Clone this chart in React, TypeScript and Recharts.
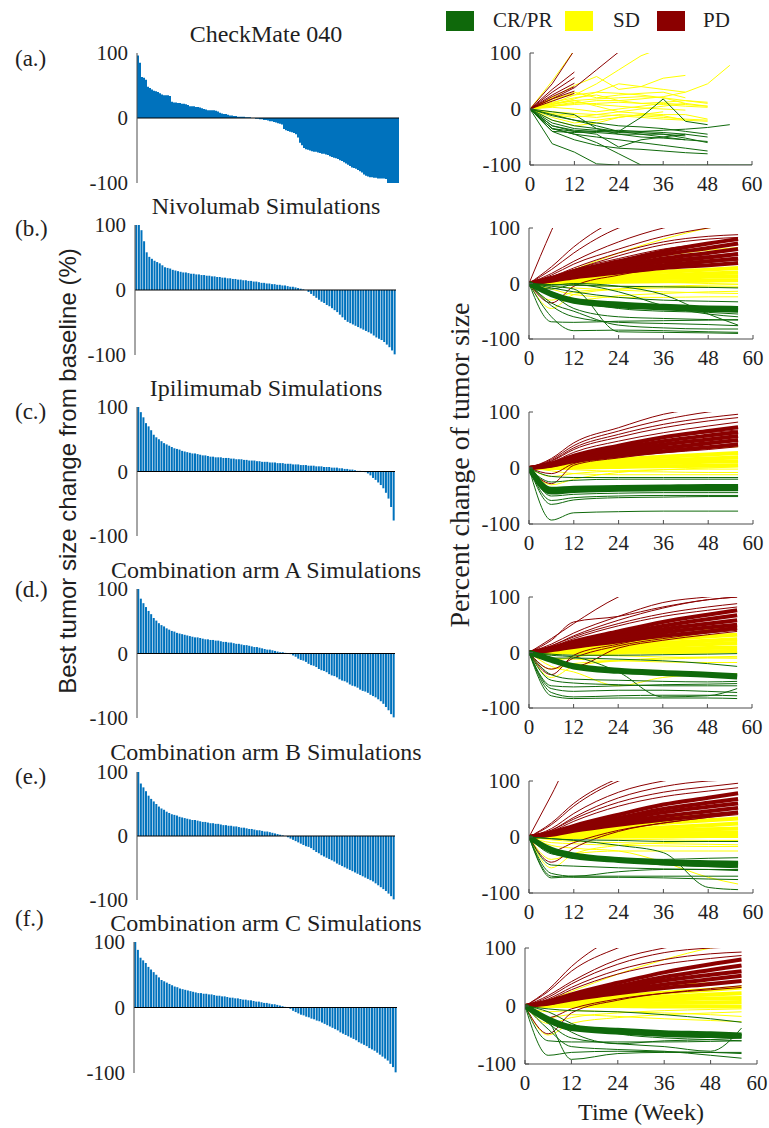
import { BarChart, Bar, LineChart, Line, XAxis, YAxis, ReferenceLine } from 'recharts';

type Box = [number, number, number, number];

const SERIF = '"Liberation Serif", "Times New Roman", serif';
const SANS = '"Liberation Sans", Arial, sans-serif';
const INK = '#1f1f1f';
const FRAME = '#4d4d4d';
const BLUE = '#0072bd';
const GREEN = '#0f690b';
const YELLOW = '#ffff00';
const RED = '#8b0000';

const Y_TICKS = [-100, 0, 100];
const WEEK_TICKS = [0, 12, 24, 36, 48, 60];
const CM_WEEKS = [0, 6, 12, 18, 24, 30, 36, 42, 48, 54, 60];
const SIM_WEEKS = [0, 6, 12, 24, 36, 48, 56];

// best change from baseline, sorted (waterfalls)
const cmBest = [
  96, 85, 63, 62, 59, 48, 46, 44, 42, 41, 40, 38, 36, 35, 35, 35, 34, 25, 24, 24, 23, 23, 22, 22, 21, 20,
  18, 18, 18, 17, 17, 16, 15, 14, 13, 12, 12, 12, 12, 11, 10, 8, 7, 6, 6, 5, 4, 4, 3, 3, 2, 2, 2, 2, 1,
  1, 1, 0, 0, -1, -1, -2, -2, -3, -3, -4, -5, -5, -6, -7, -8, -9, -10, -17, -19, -20, -21, -22, -23, -25,
  -30, -38, -42, -46, -48, -49, -50, -51, -52, -52, -53, -54, -55, -55, -56, -57, -59, -60, -61, -62,
  -63, -65, -66, -68, -70, -72, -74, -76, -77, -78, -80, -82, -84, -87, -89, -90, -91, -91, -92, -92,
  -93, -93, -93, -93, -94, -100, -100, -100, -100, -100, -100,
];
const nivoBest = [
  100, 100, 92, 75, 58, 51, 48, 45, 43, 41, 38, 35, 34, 33, 31, 30, 29, 28, 27, 27,
  26, 25, 25, 24, 24, 23, 23, 22, 22, 21, 21, 20, 20, 19, 19, 18, 18, 17, 17, 16,
  16, 15, 15, 14, 14, 13, 13, 12, 11, 11, 10, 10, 9, 9, 8, 8, 7, 7, 6, 5,
  5, 4, 3, 2, 1, 0, -3, -6, -9, -12, -15, -18, -20, -23, -25, -28, -31, -34, -38, -42,
  -46, -49, -51, -53, -55, -57, -59, -61, -63, -65, -67, -70, -73, -75, -77, -80, -84, -88, -93, -99,
];
const ipiBest = [
  100, 92, 84, 75, 70, 64, 57, 53, 50, 47, 44, 42, 40, 38, 36, 35, 34, 32, 31, 30,
  29, 28, 28, 27, 26, 25, 25, 24, 23, 23, 22, 22, 22, 21, 21, 21, 20, 20, 19, 19,
  19, 18, 18, 17, 17, 17, 16, 16, 15, 15, 15, 14, 14, 14, 13, 13, 13, 12, 12, 12,
  11, 11, 11, 10, 10, 10, 9, 9, 9, 8, 8, 8, 7, 7, 7, 6, 6, 6, 5, 5,
  4, 4, 3, 3, 2, 1, 1, 0, -1, -3, -6, -10, -13, -17, -21, -26, -33, -42, -55, -76,
];
const armABest = [
  100, 85, 78, 72, 66, 61, 55, 51, 47, 44, 42, 39, 37, 35, 34, 32, 31, 30, 29, 28,
  27, 26, 25, 25, 24, 23, 22, 22, 21, 21, 20, 20, 19, 18, 18, 17, 17, 16, 15, 15,
  14, 13, 13, 12, 11, 10, 10, 9, 8, 7, 6, 6, 5, 4, 3, 2, 2, 1, 0, -1,
  -3, -5, -8, -10, -11, -13, -16, -18, -19, -21, -24, -26, -27, -29, -32, -34, -35, -37, -40, -42,
  -43, -45, -48, -50, -51, -53, -56, -58, -59, -61, -64, -66, -68, -71, -74, -78, -83, -88, -94, -99,
];
const armBBest = [
  100, 82, 76, 70, 63, 58, 54, 50, 46, 43, 41, 38, 36, 34, 33, 32, 30, 29, 28, 27,
  26, 25, 25, 24, 23, 22, 22, 21, 20, 20, 19, 19, 18, 17, 17, 16, 16, 15, 15, 14,
  13, 13, 12, 11, 11, 10, 9, 9, 8, 7, 7, 6, 5, 4, 3, 2, 1, 0, -2, -4,
  -6, -8, -10, -12, -14, -16, -17, -19, -22, -25, -27, -30, -32, -34, -36, -38, -40, -43, -45, -47,
  -49, -51, -53, -55, -57, -59, -61, -63, -65, -67, -69, -71, -74, -77, -80, -83, -86, -90, -94, -99,
];
const armCBest = [
  100, 88, 76, 72, 68, 62, 58, 54, 50, 46, 42, 40, 38, 36, 34, 32, 31, 29, 28, 27,
  26, 25, 24, 23, 22, 22, 21, 21, 20, 20, 19, 18, 18, 17, 17, 16, 15, 15, 14, 14,
  13, 12, 12, 11, 11, 10, 9, 9, 8, 7, 7, 6, 5, 5, 4, 3, 2, 1, 0, -2,
  -5, -7, -9, -11, -12, -14, -15, -17, -18, -20, -21, -23, -25, -27, -29, -31, -33, -35, -38, -40,
  -42, -44, -46, -48, -50, -53, -55, -57, -59, -62, -64, -66, -69, -72, -75, -78, -81, -86, -91, -99,
];

// CheckMate 040 spider lines (percent change at CM_WEEKS)
const cmPd = [
  [0, 45, 105],
  [0, 35, 66],
  [0, 30, 56],
  [0, 25, 46],
  [0, 22, 40],
  [0, 18, 32],
  [0, 14, 28],
  [0, 18, 38, 70, 102, 102],
];
const cmSd = [
  [0, 50, 105],
  [0, 20, 42, 58, 35, 40, 55, 60],
  [0, 10, 25, 45, 70, 95, 110],
  [0, 8, 18, 30, 45, 40, 35, 30],
  [0, 5, 10, 15, 15, 18, 22, 30, 45, 78],
  [0, 15, 30, 20, 25, 28, 30, 20],
  [0, 10, 15, 18, 20, 22, 20, 15, 10],
  [0, 5, 8, 10, 12, 10, 8, 5, 3],
  [0, 3, 0, -5, 0, 5, 10, 8, 5],
  [0, -5, -8, -10, -12, -15, -18, -20, -22],
  [0, -15, -25, -20, -15, -10, -12, -20],
  [0, 8, 15, 5, -5, -8, -10, -10, -18],
  [0, 20, 25, 30, 28, 25, 20, 10, 5],
  [0, -10, -15, -10, -5, 0, 5, 10],
  [0, -20, -30, -25, -15, -10, -5],
  [0, 12, 20, 25, 15, 10, 12, 15, 12],
  [0, 6, 12, 8, 5, 2, 0, -2],
  [0, -8, -12, -15, -10, -12, -15, -18, -20],
];
const cmCr = [
  [0, -62, -77, -98, -100, -100, -100, -100, -100, -100, -100],
  [0, -35, -45, -60, -80, -100, -100],
  [0, -30, -38, -40, -42, -40, -38, -36, -33, -28],
  [0, -10, -20, -30, -40, -15, 18, -22, -28],
  [0, -35, -40, -45, -68, -55, -50, -45],
  [0, -40, -55, -65, -70, -72, -75, -78, -80],
  [0, -35, -45, -50, -55, -60, -65, -70, -75],
  [0, -20, -30, -35, -40, -45, -50, -55, -58],
  [0, -25, -35, -38, -40, -42, -45, -52, -60],
  [0, -30, -40, -42, -45, -45, -45, -48],
  [0, -5, -10, -35, -45, -50, -52, -55],
  [0, -40, -42, -40, -38, -40, -42, -45, -50],
  [0, -12, -20, -25, -30, -32, -35, -40, -45],
];

// Nivolumab simulations (percent change at SIM_WEEKS)
const nivoSdBand = [
  [0, 3, 8, 15, 21, 25, 28],
  [0, 2, 6, 11, 15, 18, 20],
  [0, 1, 4, 7, 10, 12, 13],
  [0, 1, 2, 3, 4, 5, 6],
];
const nivoSd = [
  [0, 10, 25, 55, 80, 100, 110],
  [0, 8, 18, 35, 50, 60, 65],
  [0, 5, 12, 25, 35, 42, 45],
  [0, -20, -30, -22, -18, -15, -14],
  [0, -30, -15, -10, -8, -7, -7],
  [0, -10, -20, -25, -25, -24, -24],
  [0, -5, -8, -12, -15, -17, -18],
  [0, -45, -20, -10, -5, -3, -2],
  [0, 0, -3, -5, -5, -6, -6],
  [0, 3, 5, 4, 2, 0, -1],
];
const nivoPdBand = [
  [0, 10, 22, 40, 58, 72, 80],
  [0, 9, 20, 36, 52, 64, 72],
  [0, 8, 18, 32, 45, 55, 62],
  [0, 7, 15, 28, 39, 47, 53],
  [0, 6, 13, 24, 33, 40, 45],
  [0, 5, 11, 20, 28, 33, 37],
];
const nivoPd = [
  [0, 95, 180, 250, 250, 250, 250],
  [0, 30, 66, 115, 130, 140, 145],
  [0, 25, 55, 100, 120, 130, 135],
  [0, 18, 40, 75, 100, 115, 120],
  [0, 15, 35, 62, 85, 100, 108],
  [0, 12, 28, 55, 75, 85, 88],
  [0, 12, 25, 50, 70, 80, 83],
  [0, 10, 25, 45, 62, 72, 78],
  [0, 10, 22, 40, 55, 65, 70],
  [0, -35, -5, 15, 28, 38, 42],
  [0, 8, 18, 32, 42, 50, 55],
];
const nivoCr = [
  [0, -69, -70, -68, -67, -66, -65],
  [0, -60, -85, -84, -85, -87, -88],
  [0, -5, -10, -87, -88, -89, -90],
  [0, -3, 0, -5, -20, -55, -75],
  [0, -10, -2, -15, -40, -55, -60],
  [0, -20, -45, -60, -63, -65, -66],
  [0, -15, -30, -45, -50, -52, -55],
  [0, -8, -15, -25, -30, -32, -33],
  [0, -2, -3, -5, -6, -7, -8],
  [0, -40, -60, -70, -72, -74, -76],
  [0, -35, -50, -75, -80, -82, -82],
];
const nivoCrBand = [
  [0, -18, -30, -37, -41, -44, -45],
  [0, -20, -32, -40, -44, -47, -48],
];

// Ipilimumab simulations
const ipiSdBand = [
  [0, 3, 8, 15, 20, 24, 27],
  [0, 2, 5, 10, 14, 17, 19],
  [0, 1, 3, 6, 9, 11, 12],
  [0, 0, 1, 2, 3, 4, 5],
];
const ipiSd = [
  [0, -30, -20, -8, -3, 0, 2],
  [0, -15, -10, -5, -3, -2, -2],
  [0, -5, -10, -12, -12, -12, -12],
  [0, 3, 10, 22, 30, 35, 38],
  [0, 0, -3, -6, -7, -8, -8],
];
const ipiPdBand = [
  [0, 8, 22, 40, 55, 66, 73],
  [0, 7, 19, 35, 48, 58, 64],
  [0, 6, 16, 30, 42, 51, 57],
  [0, 5, 14, 26, 36, 44, 50],
  [0, 4, 12, 22, 30, 37, 42],
];
const ipiPd = [
  [0, 17, 45, 72, 96, 108, 115],
  [0, 15, 40, 66, 86, 100, 106],
  [0, 13, 36, 60, 78, 90, 96],
  [0, 12, 33, 55, 72, 84, 90],
  [0, 10, 28, 48, 63, 75, 82],
  [0, -28, 5, 18, 27, 33, 38],
  [0, -10, 8, 20, 30, 38, 45],
  [0, 8, 22, 40, 54, 63, 68],
];
const ipiCr = [
  [0, -15, -17, -17, -17, -17, -17],
  [0, -50, -47, -45, -44, -44, -44],
  [0, -58, -53, -50, -49, -49, -49],
  [0, -65, -57, -53, -52, -51, -51],
  [0, -93, -80, -78, -77, -77, -77],
  [0, -25, -22, -20, -20, -20, -20],
  [0, -45, -42, -40, -39, -39, -40],
];
const ipiCrBand = [
  [0, -38, -36, -35, -34, -33, -33],
  [0, -43, -40, -38, -37, -37, -37],
];

// Combination arm A simulations
const armASdBand = [
  [0, 3, 9, 17, 24, 29, 32],
  [0, 2, 6, 12, 17, 21, 24],
  [0, 1, 4, 8, 12, 15, 17],
  [0, 0, 2, 4, 6, 8, 9],
  [0, 0, 0, 1, 2, 2, 3],
];
const armASd = [
  [0, -25, -35, -60, -45, -40, -38],
  [0, -30, -20, -15, -12, -10, -10],
  [0, -45, -25, -15, -10, -8, -7],
  [0, -10, -12, -15, -17, -18, -18],
  [0, 5, 15, 28, 36, 42, 45],
  [0, 0, -3, -6, -8, -9, -10],
  [0, -15, -8, -3, -2, -1, 0],
];
const armAPdBand = [
  [0, 8, 20, 38, 55, 68, 76],
  [0, 7, 17, 33, 48, 60, 67],
  [0, 6, 15, 29, 42, 52, 58],
  [0, 5, 13, 25, 36, 45, 50],
  [0, 4, 10, 20, 30, 38, 44],
];
const armAPd = [
  [0, 25, 52, 100, 130, 140, 145],
  [0, 22, 55, 65, 82, 95, 100],
  [0, 15, 35, 65, 90, 100, 105],
  [0, 12, 30, 58, 80, 95, 100],
  [0, 12, 28, 52, 70, 82, 88],
  [0, 10, 25, 48, 65, 76, 82],
  [0, -40, -5, 15, 30, 40, 46],
  [0, -30, -10, 12, 25, 35, 40],
  [0, -10, -25, 8, 22, 32, 38],
];
const armACr = [
  [0, -72, -80, -78, -77, -77, -78],
  [0, -78, -83, -82, -82, -82, -83],
  [0, -60, -62, -60, -58, -57, -56],
  [0, -5, -8, -35, -80, -78, -65],
  [0, -65, -70, -68, -68, -70, -72],
  [0, -50, -55, -58, -60, -60, -60],
  [0, -10, -10, -12, -15, -20, -25],
  [0, -3, -5, -5, -4, -3, -2],
  [0, -40, -48, -50, -52, -53, -52],
];
const armACrBand = [
  [0, -12, -24, -32, -36, -39, -42],
  [0, -14, -26, -34, -38, -41, -44],
];

// Combination arm B simulations
const armBSdBand = [
  [0, 3, 9, 18, 25, 30, 33],
  [0, 2, 6, 12, 17, 21, 24],
  [0, 1, 4, 8, 11, 14, 15],
  [0, 0, 2, 4, 6, 7, 8],
  [0, 0, 0, 1, 1, 2, 2],
];
const armBSd = [
  [0, -15, -20, -25, -45, -72, -84],
  [0, -40, -30, -25, -25, -25, -25],
  [0, -55, -30, -15, -10, -8, -7],
  [0, -10, -12, -15, -16, -17, -17],
  [0, 5, 15, 28, 35, 40, 42],
  [0, -5, -8, -10, -12, -13, -14],
  [0, 0, -2, -4, -5, -6, -6],
];
const armBPdBand = [
  [0, 8, 20, 40, 58, 70, 78],
  [0, 7, 17, 34, 50, 61, 68],
  [0, 6, 15, 30, 44, 54, 60],
  [0, 5, 13, 26, 37, 46, 52],
  [0, 4, 11, 22, 31, 39, 44],
];
const armBPd = [
  [0, 75, 150, 200, 200, 200, 200],
  [0, 25, 60, 105, 130, 140, 145],
  [0, 22, 55, 100, 120, 130, 135],
  [0, 15, 42, 80, 100, 110, 115],
  [0, 12, 35, 70, 90, 100, 102],
  [0, 12, 32, 62, 80, 90, 96],
  [0, 10, 28, 55, 72, 82, 88],
  [0, -25, -10, 12, 25, 35, 40],
  [0, -45, -20, 10, 25, 35, 42],
];
const armBCr = [
  [0, -70, -72, -72, -73, -75, -76],
  [0, -73, -70, -70, -70, -70, -70],
  [0, -65, -70, -62, -58, -58, -58],
  [0, -3, -6, -15, -28, -90, -94],
  [0, -3, -5, -6, -8, -8, -8],
  [0, -50, -52, -55, -57, -58, -60],
  [0, -20, -35, -42, -50, -53, -55],
  [0, -30, -35, -38, -40, -38, -37],
];
const armBCrBand = [
  [0, -22, -32, -40, -44, -46, -47],
  [0, -25, -35, -42, -46, -49, -50],
];

// Combination arm C simulations
const armCSdBand = [
  [0, 3, 9, 17, 23, 28, 32],
  [0, 2, 6, 12, 16, 20, 22],
  [0, 1, 4, 8, 11, 13, 14],
  [0, 0, 2, 3, 5, 6, 7],
  [0, 0, 0, 0, -1, -1, -1],
];
const armCSd = [
  [0, 10, 25, 55, 80, 100, 108],
  [0, -30, -20, -12, -8, -6, -5],
  [0, -50, -30, -20, -15, -12, -10],
  [0, -20, -15, -18, -22, -25, -27],
  [0, -10, -8, -10, -12, -15, -18],
  [0, 5, 15, 28, 36, 40, 42],
];
const armCPdBand = [
  [0, 8, 20, 40, 58, 72, 80],
  [0, 7, 17, 34, 50, 62, 70],
  [0, 6, 15, 30, 44, 54, 60],
  [0, 5, 13, 26, 37, 46, 52],
  [0, 4, 11, 22, 31, 38, 43],
];
const armCPd = [
  [0, 28, 68, 120, 140, 150, 150],
  [0, 25, 60, 100, 125, 135, 140],
  [0, 18, 42, 80, 100, 112, 118],
  [0, 15, 38, 72, 92, 100, 102],
  [0, 12, 32, 62, 80, 90, 93],
  [0, 10, 28, 55, 72, 82, 87],
  [0, -48, -12, 10, 22, 30, 35],
  [0, -20, -5, 12, 22, 28, 32],
];
const armCCr = [
  [0, -85, -80, -78, -79, -80, -82],
  [0, -25, -92, -82, -80, -80, -80],
  [0, -60, -62, -62, -62, -61, -60],
  [0, -30, -55, -65, -70, -78, -38],
  [0, -20, -45, -65, -60, -58, -55],
  [0, -10, -30, -48, -55, -58, -60],
  [0, -5, -8, -10, -15, -22, -28],
  [0, -40, -70, -75, -78, -85, -90],
  [0, -20, -35, -40, -45, -48, -50],
];
const armCCrBand = [
  [0, -22, -36, -42, -46, -48, -50],
  [0, -25, -39, -45, -49, -51, -52],
];

type Group = { lines: (number | null)[][]; color: string; width: number };

const simGroups = (
  sdBand: number[][],
  sd: number[][],
  pdBand: number[][],
  pd: number[][],
  cr: number[][],
  crBand: number[][]
): Group[] => [
  { lines: sdBand, color: YELLOW, width: 4 },
  { lines: sd, color: YELLOW, width: 1 },
  { lines: pdBand, color: RED, width: 4 },
  { lines: pd, color: RED, width: 1 },
  { lines: cr, color: GREEN, width: 1 },
  { lines: crBand, color: GREEN, width: 5 },
];

const PAD = 16; // room round each plot box for tick labels

function Waterfall({ box, values, gap }: { box: Box; values: number[]; gap: string | number }) {
  const [l, t, r, b] = box;
  const w = r - l;
  const h = b - t;
  const data = values.map((v, i) => ({ i, v }));
  return (
    <div style={{ position: 'absolute', left: l - 60, top: t - PAD }}>
      <BarChart
        width={w + 60 + PAD}
        height={h + 2 * PAD}
        data={data}
        margin={{ top: PAD, right: PAD, bottom: PAD, left: 0 }}
        barCategoryGap={gap}
        barGap={0}
      >
        <XAxis dataKey="i" height={0} tick={false} tickLine={false} stroke={FRAME} />
        <XAxis xAxisId="top" dataKey="i" orientation="top" height={0} tick={false} tickLine={false} stroke={FRAME} />
        <YAxis
          domain={[-100, 100]}
          ticks={Y_TICKS}
          interval={0}
          width={60}
          tickSize={0}
          tickMargin={9}
          tickLine={false}
          stroke={FRAME}
          tick={{ fill: INK, fontSize: 21, fontFamily: SERIF }}
        />
        <YAxis yAxisId="right" orientation="right" domain={[-100, 100]} width={0} tick={false} tickLine={false} stroke={FRAME} />
        <Bar dataKey="v" fill={BLUE} isAnimationActive={false} />
        <ReferenceLine y={0} stroke="#000" strokeWidth={1} />
      </BarChart>
    </div>
  );
}

function Spider({
  box,
  weeks,
  groups,
  curve = 'monotone',
  xLabel,
}: {
  box: Box;
  weeks: number[];
  groups: Group[];
  curve?: 'monotone' | 'linear';
  xLabel?: string;
}) {
  const [l, t, r, b] = box;
  const w = r - l;
  const h = b - t;
  const bottom = xLabel ? 72 : 40;
  const data = weeks.map((week, i) => {
    const row: Record<string, number | null> = { week };
    groups.forEach((g, gi) =>
      g.lines.forEach((ln, li) => {
        row[`g${gi}l${li}`] = ln[i] ?? null;
      })
    );
    return row;
  });
  const tickStyle = { fill: INK, fontSize: 21, fontFamily: SERIF };
  return (
    <div style={{ position: 'absolute', left: l - 60, top: t - PAD }}>
      <LineChart
        width={w + 60 + PAD}
        height={h + PAD + bottom}
        data={data}
        margin={{ top: PAD, right: PAD, bottom: 0, left: 0 }}
      >
        <XAxis
          dataKey="week"
          type="number"
          domain={[0, 60]}
          ticks={WEEK_TICKS}
          interval={0}
          allowDataOverflow
          height={bottom}
          tickSize={-4}
          tickMargin={15}
          stroke={FRAME}
          tick={tickStyle}
          label={
            xLabel
              ? { value: xLabel, position: 'insideBottom', offset: 16, style: { fill: INK, fontSize: 24, fontFamily: SERIF } }
              : undefined
          }
        />
        <XAxis
          xAxisId="top"
          dataKey="week"
          type="number"
          orientation="top"
          domain={[0, 60]}
          ticks={WEEK_TICKS}
          interval={0}
          allowDataOverflow
          height={0}
          tick={false}
          tickSize={-4}
          stroke={FRAME}
        />
        <YAxis
          domain={[-100, 100]}
          ticks={Y_TICKS}
          interval={0}
          allowDataOverflow
          width={60}
          tickSize={-4}
          tickMargin={13}
          stroke={FRAME}
          tick={tickStyle}
        />
        <YAxis
          yAxisId="right"
          orientation="right"
          domain={[-100, 100]}
          ticks={Y_TICKS}
          interval={0}
          allowDataOverflow
          width={0}
          tick={false}
          tickSize={-4}
          stroke={FRAME}
        />
        {groups.flatMap((g, gi) =>
          g.lines.map((_, li) => (
            <Line
              key={`g${gi}l${li}`}
              dataKey={`g${gi}l${li}`}
              type={curve}
              stroke={g.color}
              strokeWidth={g.width}
              dot={false}
              activeDot={false}
              isAnimationActive={false}
            />
          ))
        )}
      </LineChart>
    </div>
  );
}

const ROWS = [
  {
    tag: '(a.)', tagY: 58, title: 'CheckMate 040', titleY: 34,
    bars: [137, 53, 399, 183] as Box, best: cmBest, gap: 0,
    lines: [530, 53, 752, 165] as Box, weeks: CM_WEEKS, curve: 'linear' as const,
    groups: [
      { lines: cmSd, color: YELLOW, width: 1 },
      { lines: cmPd, color: RED, width: 1 },
      { lines: cmCr, color: GREEN, width: 1 },
    ],
  },
  {
    tag: '(b.)', tagY: 228, title: 'Nivolumab Simulations', titleY: 206,
    bars: [135, 225, 396, 355] as Box, best: nivoBest, gap: '10%',
    lines: [529, 228, 753, 339] as Box, weeks: SIM_WEEKS, curve: 'monotone' as const,
    groups: simGroups(nivoSdBand, nivoSd, nivoPdBand, nivoPd, nivoCr, nivoCrBand),
  },
  {
    tag: '(c.)', tagY: 411, title: 'Ipilimumab Simulations', titleY: 388,
    bars: [137, 407, 395, 536] as Box, best: ipiBest, gap: '10%',
    lines: [529, 412, 753, 524] as Box, weeks: SIM_WEEKS, curve: 'monotone' as const,
    groups: simGroups(ipiSdBand, ipiSd, ipiPdBand, ipiPd, ipiCr, ipiCrBand),
  },
  {
    tag: '(d.)', tagY: 589, title: 'Combination arm A Simulations', titleY: 570,
    bars: [137, 589, 395, 718] as Box, best: armABest, gap: '10%',
    lines: [529, 597, 752, 708] as Box, weeks: SIM_WEEKS, curve: 'monotone' as const,
    groups: simGroups(armASdBand, armASd, armAPdBand, armAPd, armACr, armACrBand),
  },
  {
    tag: '(e.)', tagY: 776, title: 'Combination arm B Simulations', titleY: 752,
    bars: [137, 772, 395, 900] as Box, best: armBBest, gap: '10%',
    lines: [529, 781, 753, 893] as Box, weeks: SIM_WEEKS, curve: 'monotone' as const,
    groups: simGroups(armBSdBand, armBSd, armBPdBand, armBPd, armBCr, armBCrBand),
  },
  {
    tag: '(f.)', tagY: 918, title: 'Combination arm C Simulations', titleY: 923,
    bars: [134, 942, 397, 1073] as Box, best: armCBest, gap: '10%',
    lines: [525, 948, 757, 1064] as Box, weeks: SIM_WEEKS, curve: 'monotone' as const,
    groups: simGroups(armCSdBand, armCSd, armCPdBand, armCPd, armCCr, armCCrBand),
    xLabel: 'Time (Week)',
  },
];

const LEGEND = [
  { label: 'CR/PR', color: GREEN, box: 446, text: 493 },
  { label: 'SD', color: YELLOW, box: 565, text: 613 },
  { label: 'PD', color: RED, box: 657, text: 703 },
];

// line box kept tight (0.75 em) so the title does not reach into the tick labels
const serifText = (size: number) => ({
  position: 'absolute' as const,
  fontFamily: SERIF,
  fontSize: size,
  lineHeight: `${Math.round(size * 0.75)}px`,
  color: INK,
  whiteSpace: 'nowrap' as const,
});

export default function App() {
  return (
    <div style={{ position: 'absolute', left: 0, top: 0, width: 769, height: 1128, background: '#fff', overflow: 'hidden' }}>
      {LEGEND.map((item) => (
        <div key={item.label}>
          <div style={{ position: 'absolute', left: item.box, top: 11, width: 28, height: 20, background: item.color }} />
          <div style={{ ...serifText(21), left: item.text, top: 20 - 8 }}>{item.label}</div>
        </div>
      ))}

      {ROWS.map((row) => (
        <div key={row.tag}>
          <Waterfall box={row.bars} values={row.best} gap={row.gap} />
          <Spider box={row.lines} weeks={row.weeks} groups={row.groups} curve={row.curve} xLabel={row.xLabel} />
          <div style={{ ...serifText(23), left: 15, top: row.tagY - 8.5 }}>{row.tag}</div>
          <div style={{ ...serifText(24), left: 266, top: row.titleY - 9, transform: 'translateX(-50%)' }}>{row.title}</div>
        </div>
      ))}

      <div
        style={{
          position: 'absolute',
          left: 68,
          top: 471,
          transform: 'translate(-50%, -50%) rotate(-90deg)',
          fontFamily: SANS,
          fontSize: 24,
          lineHeight: '24px',
          color: INK,
          whiteSpace: 'nowrap',
        }}
      >
        Best tumor size change from baseline (%)
      </div>
      <div
        style={{
          position: 'absolute',
          left: 460,
          top: 465,
          transform: 'translate(-50%, -50%) rotate(-90deg)',
          fontFamily: SERIF,
          fontSize: 28,
          lineHeight: '28px',
          color: INK,
          whiteSpace: 'nowrap',
        }}
      >
        Percent change of tumor size
      </div>
    </div>
  );
}
